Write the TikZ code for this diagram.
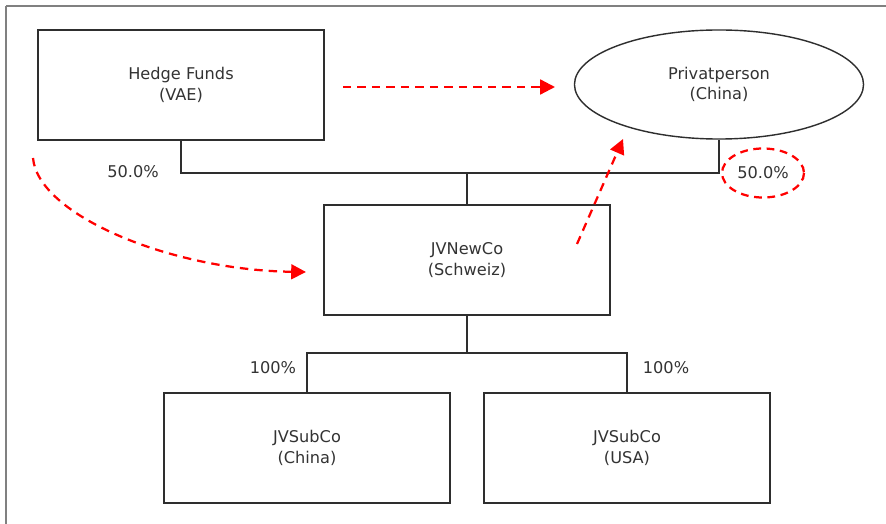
\documentclass[tikz,border=0pt]{standalone}
\usepackage{fontspec}
\setmainfont{DejaVu Sans}
\usetikzlibrary{arrows.meta}
\usetikzlibrary{shapes.geometric}

\definecolor{boxline}{HTML}{2E2E2E}
\definecolor{boxtext}{HTML}{333333}
\definecolor{framegray}{HTML}{808080}

\tikzset{
  entity/.style={rectangle, draw=boxline, line width=1pt, minimum width=7.15cm, minimum height=2.75cm, inner sep=0pt, align=center, text=boxtext, font=\fontsize{11.5}{14.8}\selectfont},
  person/.style={ellipse, draw=boxline, line width=1pt, minimum width=7.225cm, minimum height=2.725cm, inner sep=0pt, align=center, text=boxtext, font=\fontsize{11.5}{14.8}\selectfont},
  pct/.style={text=boxtext, inner sep=0pt, font=\fontsize{11.5}{14}\selectfont},
  owns/.style={draw=boxline, line width=1pt},
  flow/.style={draw=red, line width=1.6pt, dash pattern=on 6pt off 4.3pt, -{Triangle[length=0.37cm, width=0.37cm]}},
}

\begin{document}
\begin{tikzpicture}[x=0.025cm, y=-0.025cm]
      \useasboundingbox (0,0) rectangle (886,524);
      \fill[white] (0,0) rectangle (886,524);

      % frame
      \draw[framegray, line width=1.4pt] (6,6) -- (886,6);
      \draw[framegray, line width=1.1pt] (6,6) -- (6,524);

      % entities
      \node[entity] (hedge) at (181,85) {Hedge Funds\\(VAE)};
      \node[person] (privat) at (719,84.5) {Privatperson\\(China)};
      \node[entity] (newco) at (467,260) {JVNewCo\\(Schweiz)};
      \node[entity] (subcn) at (307,448) {JVSubCo\\(China)};
      \node[entity] (subus) at (627,448) {JVSubCo\\(USA)};

      % ownership lines
      \coordinate (top) at (467,173);
      \coordinate (bot) at (467,353);
      \draw[owns] (hedge.south) |- (top) -| (privat.south);
      \draw[owns] (top) -- (newco.north);
      \draw[owns] (newco.south) -- (bot);
      \draw[owns] (subcn.north) |- (bot) -| (subus.north);

      % shares
      \node[pct] (pcthedge) at (133,172) {50.0\%};
      \node[pct] (pctprivat) at (763,173) {50.0\%};
      \node[pct] (pctcn) at (273,368) {100\%};
      \node[pct] (pctus) at (666,368) {100\%};
      \draw[red, line width=1.6pt, dash pattern=on 5.5pt off 4pt] (pctprivat) ellipse (41 and 24.5);

      % red arrows
      \coordinate (a1) at (343,87);
      \coordinate (a2) at (555,87);
      \coordinate (b1) at (33,158);
      \coordinate (b2) at (306,272);
      \coordinate (c1) at (577,244);
      \coordinate (c2) at (623,139);
      \draw[flow] (a1) -- (a2);
      \draw[flow] (b1) .. controls (38,215) and (170,270) .. (b2);
      \draw[flow] (c1) -- (c2);
\end{tikzpicture}
\end{document}
